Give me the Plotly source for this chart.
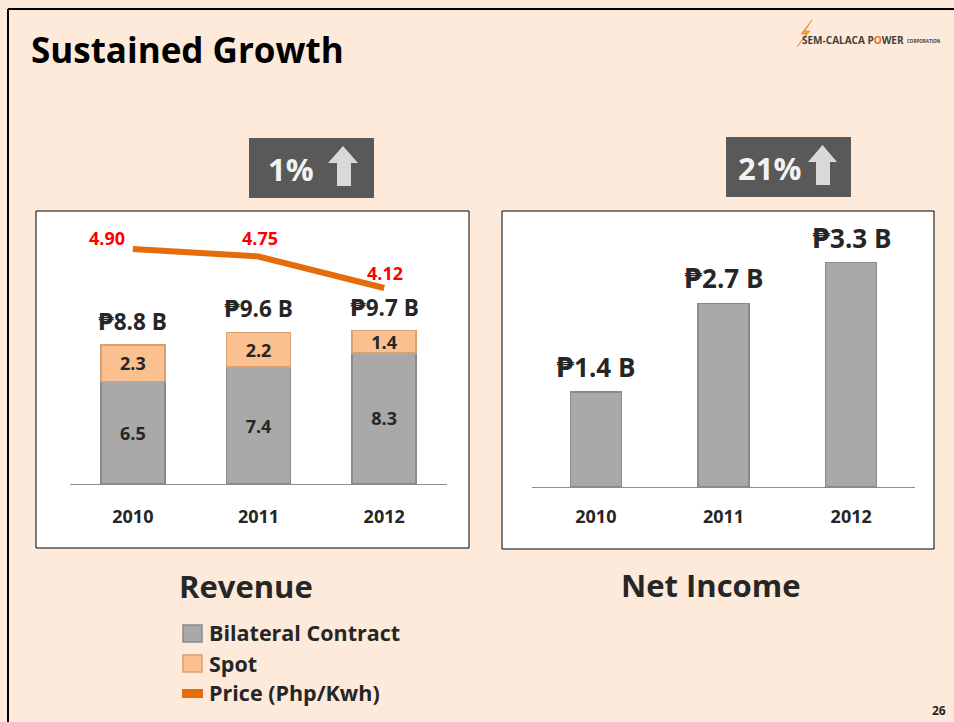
import plotly.graph_objects as go

W, H = 954, 722

# ---------- data ----------
years = ["2010", "2011", "2012"]
bilateral = [6.5, 7.4, 8.3]
spot = [2.3, 2.2, 1.4]
revenue_total = [8.8, 9.6, 9.7]
price = [4.90, 4.75, 4.12]
net_income = [1.4, 2.7, 3.3]

badges = ["1%", "21%"]
legend_items = ["Bilateral Contract", "Spot", "Price (Php/Kwh)"]

# ---------- style ----------
BG = "#FDEADA"
INK = "#262626"
GRAY_BAR = "#A9A9A9"
GRAY_EDGE = "#8A8A8A"
SPOT_BAR = "#FAC08F"
SPOT_EDGE = "#D9A070"
ORANGE = "#E46C0A"
BADGE = "#595959"
FONT = "'Open Sans', 'DejaVu Sans', sans-serif"

pos = list(range(len(years)))  # category slots on the x axes


def px_x(x):
    return x / W


def px_y(y):
    return 1 - y / H


def rect(x0, y0, x1, y1, fill, line=None, width=0, layer="below"):
    return dict(
        type="rect", xref="paper", yref="paper",
        x0=px_x(x0), x1=px_x(x1), y0=px_y(y1), y1=px_y(y0),
        fillcolor=fill, line=dict(color=line or fill, width=width), layer=layer,
    )


def up_arrow(x0, x1, s0, s1, ytop, yhead, ybot, color):
    pts = [(x0, yhead), ((x0 + x1) / 2, ytop), (x1, yhead), (s1, yhead),
           (s1, ybot), (s0, ybot), (s0, yhead)]
    path = "M " + " L ".join(f"{px_x(a):.5f},{px_y(b):.5f}" for a, b in pts) + " Z"
    return dict(type="path", xref="paper", yref="paper", path=path,
                fillcolor=color, line=dict(color=color, width=0), layer="above")


fig = go.Figure()

seg_font = dict(family=FONT, size=18, color=INK, weight="bold")

# Revenue: stacked bars + price line
fig.add_trace(go.Bar(
    x=pos, y=bilateral, name="Bilateral Contract", width=0.51,
    marker=dict(color=GRAY_BAR, line=dict(color=GRAY_EDGE, width=1.5)),
    text=[f"{v:.1f}" for v in bilateral], textposition="inside",
    insidetextanchor="middle", constraintext="none", textangle=0,
    textfont=seg_font, xaxis="x", yaxis="y", hoverinfo="skip",
))
fig.add_trace(go.Bar(
    x=pos, y=spot, name="Spot", width=0.51,
    marker=dict(color=SPOT_BAR, line=dict(color=SPOT_EDGE, width=1.5)),
    text=[f"{v:.1f}" for v in spot], textposition="inside",
    insidetextanchor="middle", constraintext="none", textangle=0,
    textfont=seg_font, xaxis="x", yaxis="y", hoverinfo="skip",
))
fig.add_trace(go.Scatter(
    x=pos, y=price, mode="lines", name="Price (Php/Kwh)",
    line=dict(color=ORANGE, width=6),
    xaxis="x", yaxis="y2", hoverinfo="skip",
))

# Net income
fig.add_trace(go.Bar(
    x=pos, y=net_income, name="Net Income", width=0.4,
    marker=dict(color=GRAY_BAR, line=dict(color=GRAY_EDGE, width=1.5)),
    xaxis="x2", yaxis="y3", hoverinfo="skip",
))

tick_font = dict(family=FONT, size=18, color=INK, weight="bold")

shapes = [
    rect(36, 211, 469, 548, "white", "#000000", 1),
    rect(502, 211, 934, 549, "white", "#000000", 1),
    rect(249, 138, 374, 198, BADGE, layer="above"),
    rect(726, 137, 851, 197, BADGE, layer="above"),
    up_arrow(328, 358, 337, 351, 146, 163, 186, "#D9D9D9"),
    up_arrow(808, 837, 816, 830, 145, 162, 185, "#D9D9D9"),
    # legend swatches
    rect(183, 625, 202, 642, GRAY_BAR, GRAY_EDGE, 1.5, layer="above"),
    rect(183, 655, 202, 672, SPOT_BAR, SPOT_EDGE, 1.5, layer="above"),
    rect(182, 689, 203, 698, ORANGE, layer="above"),
    # slide border
    dict(type="line", xref="paper", yref="paper", x0=px_x(8), x1=px_x(8),
         y0=px_y(9), y1=px_y(722), line=dict(color="#000000", width=2)),
    dict(type="line", xref="paper", yref="paper", x0=px_x(8), x1=px_x(954),
         y0=px_y(9), y1=px_y(9), line=dict(color="#000000", width=2)),
    # logo bolt
    dict(type="path", xref="paper", yref="paper",
         path=(f"M {px_x(812)},{px_y(20)} L {px_x(801)},{px_y(34)} L {px_x(806)},{px_y(34)} "
               f"L {px_x(797)},{px_y(47)} L {px_x(810)},{px_y(31)} L {px_x(805)},{px_y(31)} Z"),
         fillcolor="#F0A030", line=dict(color="#E07A10", width=0.5)),
]

annotations = []


def note(x, y, text, size, color=INK, xanchor="center", yanchor="middle", **kw):
    annotations.append(dict(
        xref="paper", yref="paper", x=px_x(x), y=px_y(y), text=text,
        showarrow=False, xanchor=xanchor, yanchor=yanchor,
        font=dict(family=FONT, size=size, color=color, weight="bold"), **kw,
    ))


# totals above revenue bars
for i, tot in zip(pos, revenue_total):
    annotations.append(dict(
        xref="x", yref="y", x=i, y=tot, text=f"₱{tot:.1f} B", showarrow=False,
        yanchor="bottom", yshift=6,
        font=dict(family=FONT, size=22.5, color=INK, weight="bold"),
    ))

# price labels
price_shift = [(-26, 11), (1, 19), (1, 15)]
for i, p, (dx, dy) in zip(pos, price, price_shift):
    annotations.append(dict(
        xref="x", yref="y2", x=i, y=p, text=f"{p:.2f}", showarrow=False,
        xshift=dx, yshift=dy,
        font=dict(family=FONT, size=18, color="#FF0000", weight="bold"),
    ))

# net income labels
for i, v in zip(pos, net_income):
    annotations.append(dict(
        xref="x2", yref="y3", x=i, y=v, text=f"₱{v:.1f} B", showarrow=False,
        yanchor="bottom", yshift=5,
        font=dict(family=FONT, size=26, color=INK, weight="bold"),
    ))

note(29, 49, "Sustained Growth", 35, color="#000000", xanchor="left")
note(291, 169, badges[0], 31, color="#F2F2F2")
note(769, 168, badges[1], 31, color="#F2F2F2")
note(246, 586, "Revenue", 31)
note(711, 585, "Net Income", 31)
note(207, 632, legend_items[0], 21.5, xanchor="left")
note(207, 663, legend_items[1], 21.5, xanchor="left")
note(207, 692, legend_items[2], 21.5, xanchor="left")
note(948, 710, "26", 12, xanchor="right")
note(800, 40, "SEM-CALACA P<span style='color:#E07A10'>O</span>WER", 10,
     color="#404040", xanchor="left")
note(905, 41, "CORPORATION", 4.5, color="#404040", xanchor="left")

x_common = dict(
    range=[-0.5, len(years) - 0.5], tickvals=pos, ticktext=years,
    showline=True, linecolor="#8C8C8C", linewidth=1, ticks="",
    showgrid=False, zeroline=False, tickfont=tick_font, automargin=False,
    fixedrange=True,
)

fig.update_layout(
    width=W, height=H,
    margin=dict(l=0, r=0, t=0, b=0, autoexpand=False),
    paper_bgcolor=BG,
    plot_bgcolor="rgba(0,0,0,0)",
    barmode="stack",
    showlegend=False,
    xaxis=dict(domain=[px_x(70), px_x(447)], anchor="y",
               ticklabelstandoff=16, **x_common),
    yaxis=dict(domain=[px_y(484), px_y(220)], range=[0, 264 / 15.8],
               visible=False, automargin=False),
    yaxis2=dict(overlaying="y", anchor="x", range=[0.2, 5.48], visible=False,
                automargin=False),
    xaxis2=dict(domain=[px_x(532), px_x(915)], anchor="y3",
                ticklabelstandoff=13, **x_common),
    yaxis3=dict(domain=[px_y(487), px_y(220)], range=[0, 267 / 68],
                visible=False, automargin=False),
    shapes=shapes,
    annotations=annotations,
)

fig.write_html(
    "out.html",
    config={"displayModeBar": False, "responsive": False},
    post_script="document.body.style.margin='0';document.body.style.overflow='hidden';",
)
